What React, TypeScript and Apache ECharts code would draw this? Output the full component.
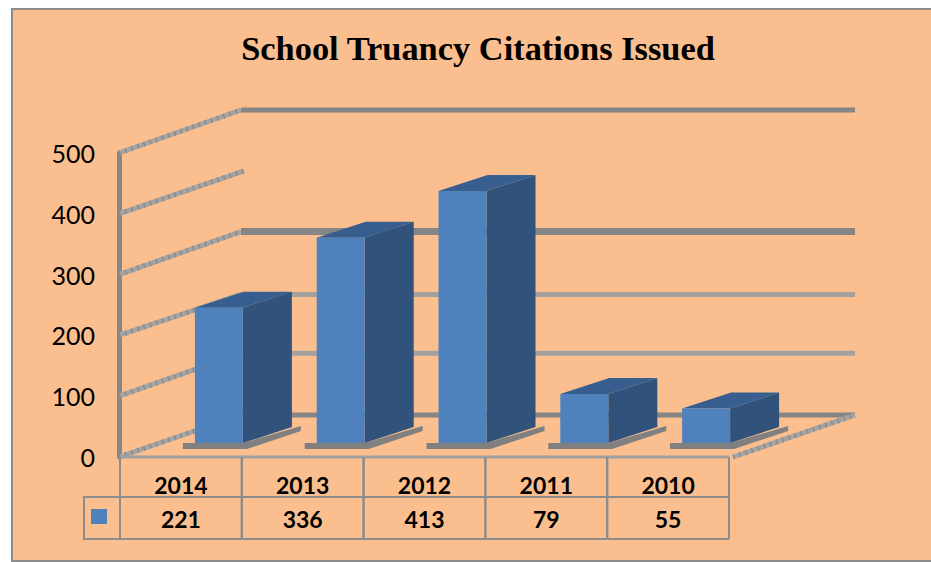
import React, { useEffect, useRef } from "react";
import * as echarts from "echarts";

const title = "School Truancy Citations Issued";
const categories = ["2014", "2013", "2012", "2011", "2010"];
const values = [221, 336, 413, 79, 55];
const wallTicks = [0, 100, 200, 300, 400, 500];
const wallLineColors = ["#868686", "#a3a09e", "#a3a09e", "#868686", "", "#868686"];
const wallLineWidths = [5, 5, 5, 7, 0, 5];
const wallLineNudge = [1, 0, 2, 0, 0, 0];

const DEPTH_X = 122;
const DEPTH_Y = -43;
const BAR_W = 48;
const BAR_DX = 14;
const BAR_FLOOR = -14;
const BAR_DEPTH_X = 49;
const BAR_DEPTH_Y = -16;
const FRONT = "#4f81bd";
const SIDE = "#31527b";
const TOP = "#375e8f";
const GREY = "#808080";

function diag(x1: number, y1: number, x2: number, y2: number) {
  return [
    { type: "line", shape: { x1, y1, x2, y2 }, style: { stroke: "#a6a4a2", lineWidth: 5 } },
    { type: "line", shape: { x1, y1, x2, y2 }, style: { stroke: "#8a8a8a", lineWidth: 5, lineDash: [1.5, 5] } },
  ];
}

const renderWall = (params: any, api: any) => {
  const i = params.dataIndex;
  const v = api.value(1);
  const cs = params.coordSys;
  const y = api.coord([0, v])[1];
  const x0 = cs.x - 1;
  const right = cs.x + cs.width;
  const back = y + DEPTH_Y + wallLineNudge[i];
  const children: any[] = diag(x0, y, x0 + DEPTH_X + (v === 400 ? 3 : 0), back);
  if (wallLineWidths[i] > 0) {
    children.push({
      type: "line",
      shape: { x1: x0 + DEPTH_X, y1: back, x2: right + DEPTH_X + 4, y2: back },
      style: { stroke: wallLineColors[i], lineWidth: wallLineWidths[i] },
    });
  }
  if (v === 0) {
    children.push(...diag(right + 4, y, right + 4 + DEPTH_X, back));
  }
  return { type: "group", children };
};

const renderBar = (params: any, api: any) => {
  const c = api.coord([api.value(0), api.value(1)]);
  const base = api.coord([api.value(0), 0]);
  const l = c[0] + BAR_DX;
  const r = l + BAR_W;
  const t = c[1] + BAR_FLOOR - 1;
  const b = base[1] + BAR_FLOOR;
  return {
    type: "group",
    children: [
      {
        type: "polygon",
        shape: { points: [[l - 12, b], [l - 12, b + 6], [l + 52, b + 6], [l + 106, b - 12], [l + 106, b - 17], [l + 48, b]] },
        style: { fill: GREY },
      },
      {
        type: "polygon",
        shape: { points: [[r, t], [r + BAR_DEPTH_X, t + BAR_DEPTH_Y], [r + BAR_DEPTH_X, b + BAR_DEPTH_Y], [r, b]] },
        style: { fill: SIDE },
      },
      {
        type: "polygon",
        shape: { points: [[l, t], [l + BAR_DEPTH_X, t + BAR_DEPTH_Y], [r + BAR_DEPTH_X, t + BAR_DEPTH_Y], [r, t]] },
        style: { fill: TOP },
      },
      { type: "rect", shape: { x: l, y: t, width: BAR_W, height: b - t }, style: { fill: FRONT } },
    ],
  };
};

const renderTable = (params: any, api: any) => {
  const c = api.coord([api.value(0), 0]);
  const w = api.size([1, 0])[0];
  const x = c[0] - w / 2;
  const y = c[1];
  const line = { stroke: "#8c8c8c", lineWidth: 2 };
  return {
    type: "group",
    children: [
      { type: "line", shape: { x1: x, y1: y, x2: x + w, y2: y }, style: { stroke: "#a0a0a0", lineWidth: 3 } },
      { type: "line", shape: { x1: x, y1: y + 40, x2: x + w, y2: y + 40 }, style: line },
      { type: "line", shape: { x1: x, y1: y + 82, x2: x + w, y2: y + 82 }, style: line },
      { type: "line", shape: { x1: x, y1: y, x2: x, y2: y + 82 }, style: line },
      { type: "line", shape: { x1: x + w, y1: y, x2: x + w, y2: y + 82 }, style: line },
      {
        type: "text",
        style: {
          x: c[0],
          y: y + 62,
          text: String(api.value(1)),
          textAlign: "center",
          textVerticalAlign: "middle",
          fontFamily: "Lato",
          fontWeight: "bold",
          fontSize: 23,
          fill: "#000",
        },
      },
    ],
  };
};

export default function App() {
  const ref = useRef<HTMLDivElement>(null);
  useEffect(() => {
    const chart = echarts.init(ref.current!, undefined, { renderer: "svg" });
    chart.setOption({
      animation: false,
      backgroundColor: "#ffffff",
      title: {
        text: title,
        left: 473,
        top: 26,
        textAlign: "center",
        textStyle: { fontFamily: "Liberation Serif", fontWeight: "bold", fontSize: 34.4, color: "#000" },
      },
      grid: { left: 120, top: 153, width: 609, height: 304 },
      xAxis: {
        type: "category",
        data: categories,
        axisLine: { show: false },
        axisTick: { show: false },
        axisLabel: { margin: 16, fontFamily: "Lato", fontWeight: "bold", fontSize: 23, color: "#000" },
      },
      yAxis: {
        type: "value",
        min: 0,
        max: 500,
        interval: 100,
        offset: 1,
        splitLine: { show: false },
        axisTick: { show: false },
        axisLine: { show: true, lineStyle: { color: "#868686", width: 5 } },
        axisLabel: { margin: 24, padding: [2, 0, 0, 0], fontFamily: "Lato", fontSize: 25, color: "#000" },
      },
      graphic: [
        {
          type: "rect",
          z: -10,
          shape: { x: 12, y: 9, width: 940, height: 552 },
          style: { fill: "#fbbf8f", stroke: "#8c8c8c", lineWidth: 2 },
        },
        {
          type: "polyline",
          shape: { points: [[120, 497], [84, 497], [84, 539], [120, 539]] },
          style: { stroke: "#8c8c8c", lineWidth: 2, fill: "none" },
        },
        { type: "rect", shape: { x: 91, y: 509, width: 16, height: 15 }, style: { fill: FRONT } },
      ],
      series: [
        {
          type: "custom",
          renderItem: renderWall,
          data: wallTicks.map((v) => [0, v]),
          encode: { x: 0, y: 1 },
          silent: true,
          z: 1,
        },
        {
          type: "custom",
          renderItem: renderTable,
          data: values.map((v, i) => [i, v]),
          encode: { x: 0, y: -1 },
          silent: true,
          z: 2,
        },
        {
          type: "custom",
          renderItem: renderBar,
          data: values.map((v, i) => [i, v]),
          encode: { x: 0, y: 1 },
          silent: true,
          z: 3,
        },
      ],
    });
    return () => chart.dispose();
  }, []);
  return <div ref={ref} style={{ position: "absolute", left: 0, top: 0, width: 931, height: 562 }} />;
}
